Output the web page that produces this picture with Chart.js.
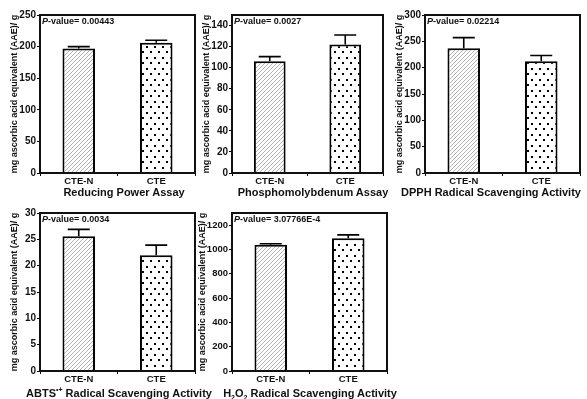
<!DOCTYPE html>
<html>
<head>
<meta charset="utf-8">
<script src="https://cdn.jsdelivr.net/npm/chart.js@4"></script>
<style>
  body { margin: 0; background: #fff; width: 587px; height: 399px; position: relative; overflow: hidden;
         font-family: "Liberation Sans", Arial, sans-serif; }
  canvas { position: absolute; }
  .pval { position: absolute; font-size: 9px; font-weight: bold; line-height: 11px; color: #111; white-space: nowrap; }
  .ttl { position: absolute; font-size: 11px; font-weight: bold; line-height: 13px; color: #111; white-space: nowrap;
         transform: translateX(-50%); }
  .ttl sub, .ttl sup { font-size: 7px; line-height: 0; }
</style>
</head>
<body>
<script>
const categories = ['CTE-N', 'CTE'];
const yAxisLabel = 'mg ascorbic acid equivalent (AAE)/ g';

const reducingValues = [197, 206];
const reducingErrors = [3, 4];
const reducingTicks = [0, 50, 100, 150, 200, 250];

const phosphoValues = [106, 122];
const phosphoErrors = [4.5, 9];
const phosphoTicks = [0, 20, 40, 60, 80, 100, 120, 140];

const dpphValues = [237, 212];
const dpphErrors = [20, 11];
const dpphTicks = [0, 50, 100, 150, 200, 250, 300];

const abtsValues = [25.6, 22.0];
const abtsErrors = [1.3, 1.9];
const abtsTicks = [0, 5, 10, 15, 20, 25, 30];

const h2o2Values = [1038, 1093];
const h2o2Errors = [9, 27];
const h2o2Ticks = [0, 200, 400, 600, 800, 1000, 1200];

const pValues = ['0.00443', '0.0027', '0.02214', '0.0034', '3.07766E-4'];
const assayTitles = [
  'Reducing Power Assay',
  'Phosphomolybdenum Assay',
  'DPPH Radical Scavenging Activity',
  'ABTS<sup>•+</sup> Radical Scavenging Activity',
  'H<sub>2</sub>O<sub>2</sub> Radical Scavenging Activity'
];

Chart.defaults.font.family = '"Liberation Sans", Arial, sans-serif';
Chart.defaults.color = '#111';

// bar fills
function hatchPattern() {
  const c = document.createElement('canvas');
  c.width = 4; c.height = 4;
  const g = c.getContext('2d');
  g.fillStyle = '#fff';
  g.fillRect(0, 0, 4, 4);
  g.strokeStyle = '#aaa';
  g.lineWidth = 0.9;
  g.beginPath();
  g.moveTo(-1, 5); g.lineTo(5, -1);
  g.moveTo(-1, 1); g.lineTo(1, -1);
  g.moveTo(3, 5); g.lineTo(5, 3);
  g.stroke();
  return g.createPattern(c, 'repeat');
}

function dotPattern() {
  const c = document.createElement('canvas');
  c.width = 8; c.height = 11;
  const g = c.getContext('2d');
  g.fillStyle = '#fff';
  g.fillRect(0, 0, 8, 11);
  g.fillStyle = '#000';
  g.fillRect(2, 2, 2, 2);
  g.fillRect(6, 7, 2, 2);
  return g.createPattern(c, 'repeat');
}

const errorBars = {
  id: 'errorBars',
  afterDatasetsDraw(chart) {
    const ctx = chart.ctx;
    const ds = chart.data.datasets[0];
    const y = chart.scales.y;
    chart.getDatasetMeta(0).data.forEach((bar, i) => {
      const top = y.getPixelForValue(ds.data[i] + ds.errors[i]);
      ctx.save();
      ctx.strokeStyle = '#000';
      ctx.lineWidth = 1.6;
      ctx.beginPath();
      ctx.moveTo(bar.x, bar.y);
      ctx.lineTo(bar.x, top);
      ctx.moveTo(bar.x - 11, top);
      ctx.lineTo(bar.x + 11, top);
      ctx.stroke();
      ctx.restore();
    });
  }
};

const frame = {
  id: 'frame',
  afterDraw(chart) {
    const a = chart.chartArea;
    const ctx = chart.ctx;
    ctx.save();
    ctx.strokeStyle = '#111';
    ctx.lineWidth = 2;
    ctx.strokeRect(a.left, a.top, a.right - a.left, a.bottom - a.top);
    ctx.restore();
  }
};

function makePanel(p) {
  const canvas = document.createElement('canvas');
  const w = (p.right - p.left) + 43;
  const h = (p.bottom - p.top) + 29;
  canvas.width = w; canvas.height = h;
  canvas.style.left = (p.left - 40) + 'px';
  canvas.style.top = (p.top - 15) + 'px';
  document.body.appendChild(canvas);

  const pv = document.createElement('div');
  pv.className = 'pval';
  pv.innerHTML = '<i>P</i>-value= ' + p.pValue;
  pv.style.left = (p.left + 2) + 'px';
  pv.style.top = (p.top + 1) + 'px';
  document.body.appendChild(pv);

  const t = document.createElement('div');
  t.className = 'ttl';
  t.innerHTML = p.title;
  t.style.left = p.titleX + 'px';
  t.style.top = p.titleY + 'px';
  document.body.appendChild(t);

  new Chart(canvas.getContext('2d'), {
    type: 'bar',
    data: {
      labels: categories,
      datasets: [{
        data: p.values,
        errors: p.errors,
        backgroundColor: [hatchPattern(), dotPattern()],
        borderColor: '#000',
        borderWidth: 2,
        barPercentage: 0.42,
        categoryPercentage: 1
      }]
    },
    options: {
      responsive: false,
      animation: false,
      devicePixelRatio: 1,
      layout: { padding: { top: 15, right: 3, left: 0, bottom: 0 } },
      plugins: { legend: { display: false }, tooltip: { enabled: false } },
      scales: {
        x: {
          grid: { display: true, drawOnChartArea: false, drawTicks: true, tickLength: 3, color: '#000' },
          border: { display: false },
          ticks: { font: { size: 9.5, weight: 'bold' }, padding: 0, color: '#111' },
          afterFit: s => { s.height = 14; }
        },
        y: {
          min: 0,
          max: p.max,
          grid: { display: true, drawOnChartArea: false, drawTicks: true, tickLength: 3, color: '#000' },
          border: { display: false },
          ticks: { font: { size: p.tickSize || 10, weight: 'bold' }, padding: 1, color: '#111',
                   callback: v => String(v) },
          afterBuildTicks: s => { s.ticks = p.ticks.map(v => ({ value: v })); },
          afterFit: s => { s.width = 40; },
          title: {
            display: true,
            text: yAxisLabel,
            font: { size: 9, weight: 'bold' },
            padding: { top: p.titlePad || 9, bottom: 0 },
            color: '#111'
          }
        }
      }
    },
    plugins: [errorBars, frame]
  });
}

makePanel({ left: 40, right: 195, top: 15, bottom: 173, max: 250, values: reducingValues, errors: reducingErrors,
  ticks: reducingTicks, pValue: pValues[0], title: assayTitles[0], titleX: 124, titleY: 186 });
makePanel({ left: 232, right: 383, top: 15, bottom: 173, max: 150, values: phosphoValues, errors: phosphoErrors,
  ticks: phosphoTicks, pValue: pValues[1], title: assayTitles[1], titleX: 313, titleY: 186 });
makePanel({ left: 425, right: 580, top: 15, bottom: 173, max: 300, values: dpphValues, errors: dpphErrors,
  ticks: dpphTicks, pValue: pValues[2], title: assayTitles[2], titleX: 491, titleY: 186 });
makePanel({ left: 40, right: 195, top: 213, bottom: 371, max: 30, values: abtsValues, errors: abtsErrors,
  ticks: abtsTicks, pValue: pValues[3], title: assayTitles[3], titleX: 119, titleY: 387 });
makePanel({ left: 232, right: 387, top: 213, bottom: 371, max: 1300, values: h2o2Values, errors: h2o2Errors,
  ticks: h2o2Ticks, pValue: pValues[4], title: assayTitles[4], titleX: 310, titleY: 387,
  tickSize: 9.5, titlePad: 5 });
</script>
</body>
</html>
